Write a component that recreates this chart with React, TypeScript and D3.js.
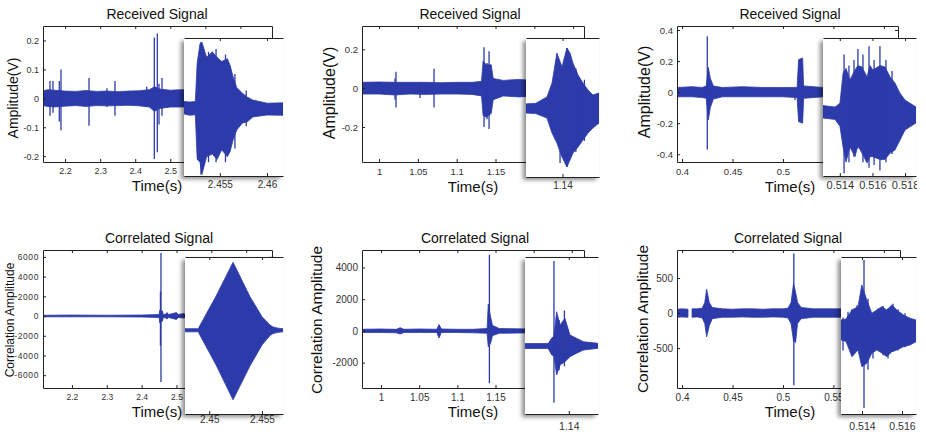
import React, { useEffect, useRef } from "react";
import * as d3 from "d3";

// rows are [time, upper envelope, lower envelope]; null = gap in the trace
type Row = [number, number | null, number | null];
// spikes are [time, top, bottom]
type Spike = [number, number, number];

// ---------- Received signal 1 ----------
const rx1Main: Row[] = [
  [2.137, 0.025, -0.025], [2.15, 0.03, -0.028], [2.17, 0.028, -0.03], [2.2, 0.025, -0.027],
  [2.23, 0.024, -0.025], [2.26, 0.027, -0.028], [2.29, 0.024, -0.025], [2.32, 0.025, -0.026],
  [2.35, 0.023, -0.025], [2.38, 0.025, -0.024], [2.41, 0.026, -0.026], [2.44, 0.03, -0.03],
  [2.455, 0.04, -0.045], [2.47, 0.032, -0.035], [2.5, 0.028, -0.03], [2.53, 0.03, -0.03],
  [2.6, 0.027, -0.027], [2.79, 0.025, -0.025],
];
const rx1Spikes: Spike[] = [
  [2.157, 0.06, -0.06], [2.1655, 0.06, -0.05], [2.1835, 0.06, -0.08], [2.1883, 0.1, -0.11],
  [2.2682, 0.07, -0.095], [2.3195, 0.035, -0.03], [2.3423, 0.06, -0.06], [2.4327, 0.04, -0.03],
  [2.4544, 0.21, -0.21], [2.4629, 0.224, -0.186], [2.4678, 0.05, -0.09], [2.4763, 0.07, -0.06],
];
const rx1Zoom: Row[] = [
  [2.4512, 0.02, -0.025], [2.4518, 0.018, -0.03], [2.4524, 0.02, -0.028], [2.4526, 0.16, -0.19],
  [2.4529, 0.23, -0.2], [2.4531, 0.235, -0.245], [2.4536, 0.18, -0.18], [2.4542, 0.2, -0.17],
  [2.4547, 0.18, -0.19], [2.4552, 0.165, -0.155], [2.4558, 0.175, -0.18], [2.4561, 0.15, -0.16],
  [2.4564, 0.11, -0.12], [2.4568, 0.07, -0.083], [2.4574, 0.05, -0.058], [2.4579, 0.036, -0.054],
  [2.4585, 0.025, -0.036], [2.46, 0.014, -0.029], [2.4617, 0.015, -0.03],
];
const rx1ZoomSpikes: Spike[] = [
  [2.453, 0.235, -0.245], [2.4538, 0.2, -0.2], [2.4546, 0.21, -0.2], [2.4556, 0.19, -0.2],
  [2.4566, 0.12, -0.15], [2.4578, 0.06, -0.07],
];
const rx1XTicks = [2.2, 2.3, 2.4, 2.5, 2.6, 2.7];
const rx1YTicks = [-0.2, -0.1, 0, 0.1, 0.2];
const rx1ZoomTicks = [2.455, 2.46];

// ---------- Received signal 2 ----------
const rx2Main: Row[] = [
  [0.978, 0.03, -0.03], [1.0, 0.032, -0.03], [1.02, 0.03, -0.035], [1.04, 0.03, -0.03],
  [1.06, 0.03, -0.032], [1.08, 0.028, -0.03], [1.1, 0.03, -0.03], [1.12, 0.03, -0.032],
  [1.132, 0.035, -0.04], [1.134, 0.14, -0.14], [1.138, 0.12, -0.15], [1.1445, 0.12, -0.13],
  [1.147, 0.05, -0.06], [1.16, 0.04, -0.04], [1.18, 0.045, -0.045], [1.2, 0.04, -0.04],
  [1.264, 0.04, -0.04],
];
const rx2Spikes: Spike[] = [
  [1.0205, 0.05, -0.06], [1.0218, 0.085, -0.1], [1.0527, 0.03, -0.05], [1.0708, 0.1, -0.1],
  [1.1352, 0.21, -0.2], [1.1391, 0.13, -0.16], [1.1417, 0.19, -0.21],
];
const rx2Zoom: Row[] = [
  [1.1385, 0.013, -0.02], [1.1389, 0.015, -0.022], [1.13936, 0.038, -0.038], [1.13957, 0.088, -0.092],
  [1.13977, 0.196, -0.128], [1.13998, 0.146, -0.178], [1.14018, 0.214, -0.214], [1.14031, 0.196, -0.189],
  [1.14043, 0.16, -0.164], [1.14064, 0.117, -0.142], [1.14084, 0.088, -0.117], [1.14105, 0.063, -0.092],
  [1.14125, 0.045, -0.074], [1.1415, 0.052, -0.056],
];
const rx2ZoomSpikes: Spike[] = [
  [1.14018, 0.214, -0.214], [1.1399, 0.15, -0.2], [1.14055, 0.14, -0.16], [1.1409, 0.1, -0.12],
];
const rx2XTicks = [1, 1.05, 1.1, 1.15, 1.2, 1.25];
const rx2YTicks = [-0.2, 0, 0.2];
const rx2ZoomTicks = [1.14];

// ---------- Received signal 3 ----------
const rx3Main: Row[] = [
  [0.395, 0.03, -0.03], [0.41, 0.035, -0.03], [0.42, 0.03, -0.035], [0.424, 0.04, -0.04],
  [0.426, 0.16, -0.18], [0.428, 0.09, -0.1], [0.431, 0.04, -0.045], [0.44, 0.03, -0.03],
  [0.46, 0.035, -0.03], [0.48, 0.03, -0.03], [0.5, 0.03, -0.03], [0.514, 0.03, -0.035],
  [0.5155, 0.21, -0.19], [0.5195, 0.22, -0.2], [0.5205, 0.04, -0.04], [0.54, 0.03, -0.03],
  [0.614, 0.03, -0.03],
];
const rx3Spikes: Spike[] = [[0.425, 0.36, -0.37], [0.512, 0.02, -0.05]];
const rx3Zoom: Row[] = [
  [0.51297, 0.005, -0.04], [0.51371, 0.0, -0.045], [0.51401, 0.014, -0.07], [0.5142, 0.123, -0.145],
  [0.51438, 0.14, -0.2], [0.51462, 0.098, -0.145], [0.51493, 0.134, -0.18], [0.51511, 0.15, -0.14],
  [0.51536, 0.145, -0.167], [0.51567, 0.109, -0.203], [0.51585, 0.15, -0.18], [0.51603, 0.134, -0.18],
  [0.51646, 0.15, -0.19], [0.51677, 0.145, -0.19], [0.51708, 0.109, -0.167], [0.51738, 0.087, -0.156],
  [0.51769, 0.05, -0.12], [0.518, 0.025, -0.083], [0.5183, 0.014, -0.072], [0.51867, 0.0, -0.058],
];
const rx3ZoomSpikes: Spike[] = [
  [0.51426, 0.19, -0.24], [0.51456, 0.15, -0.2], [0.51487, 0.17, -0.18], [0.51511, 0.21, -0.15],
  [0.51542, 0.19, -0.2], [0.51579, 0.22, -0.22], [0.5161, 0.17, -0.21], [0.51646, 0.22, -0.23],
  [0.51683, 0.17, -0.2], [0.5172, 0.13, -0.17],
];
const rx3XTicks = [0.4, 0.45, 0.5, 0.55, 0.6];
const rx3YTicks = [-0.4, -0.2, 0, 0.2, 0.4];
const rx3ZoomTicks = [0.514, 0.516, 0.518];

// ---------- Correlated signal 1 ----------
const xc1Main: Row[] = [
  [2.117, 80, -80], [2.2, 100, -80], [2.3, 80, -80], [2.4, 100, -100], [2.45, 150, -150],
  [2.452, 600, -700], [2.46, 500, -500], [2.462, 150, -150], [2.47, 200, -200], [2.473, 350, -300],
  [2.477, 150, -150], [2.5, 350, -350], [2.505, 150, -150], [2.52, 250, -200], [2.53, 100, -100],
  [2.774, 80, -80],
];
const xc1Spikes: Spike[] = [[2.4555, 6400, -6700], [2.454, 2500, -3000]];
const xc1Zoom: Row[] = [
  [2.4477, 150, -150], [2.449, 150, -150], [2.44903, 300, -300], [2.45064, 3250, -3300],
  [2.45226, 6500, -6650], [2.45387, 3200, -3400], [2.45501, 1300, -1400], [2.45577, 500, -500],
  [2.45605, 320, -320], [2.45653, 200, -200], [2.457, 150, -150],
];
const xc1ZoomSpikes: Spike[] = [];
const xc1XTicks = [2.2, 2.3, 2.4, 2.5, 2.6, 2.7];
const xc1YTicks = [-6000, -4000, -2000, 0, 2000, 4000, 6000];
const xc1ZoomTicks = [2.45, 2.455];

// ---------- Correlated signal 2 ----------
const xc2Main: Row[] = [
  [0.975, 100, -100], [1.0, 120, -100], [1.02, 100, -120], [1.025, 200, -200], [1.03, 100, -100],
  [1.05, 120, -100], [1.073, 100, -100], [1.076, 400, -450], [1.079, 120, -100], [1.1, 100, -100],
  [1.12, 100, -120], [1.139, 150, -150], [1.1405, 1700, -1000], [1.1435, 900, -800],
  [1.146, 350, -300], [1.155, 150, -150], [1.2, 120, -120], [1.266, 100, -100],
];
const xc2Spikes: Spike[] = [[1.142, 4800, -3300]];
const xc2Zoom: Row[] = [
  [1.1382, 150, -150], [1.13915, 150, -150], [1.1393, 500, -560], [1.13939, 600, -600],
  [1.1395, 2120, -1790], [1.13964, 1300, -1170], [1.13984, 1710, -970], [1.14005, 680, -660],
  [1.14032, 475, -450], [1.1406, 265, -250], [1.1412, 165, -140],
];
const xc2ZoomSpikes: Spike[] = [[1.13939, 5250, -3500], [1.13982, 2200, -1250], [1.1396, 1600, -1500]];
const xc2XTicks = [1, 1.05, 1.1, 1.15, 1.2, 1.25];
const xc2YTicks = [-2000, 0, 2000, 4000];
const xc2ZoomTicks = [1.14];

// ---------- Correlated signal 3 ----------
const xc3Main: Row[] = [
  [0.395, 55, -60], [0.4, 60, -55], [0.4059, 55, -60], [0.4079, null, null], [0.4099, 60, -60],
  [0.415, 60, -55], [0.42, 70, -70], [0.4225, 150, -150], [0.4244, 340, -340], [0.427, 150, -180],
  [0.43, 80, -80], [0.44, 60, -60], [0.45, 55, -60], [0.46, 60, -55], [0.47, 60, -60],
  [0.48, 55, -60], [0.49, 60, -55], [0.5, 60, -60], [0.505, 70, -70], [0.508, 150, -150],
  [0.5105, 420, -400], [0.5125, 300, -420], [0.5145, 150, -150], [0.518, 80, -80],
  [0.53, 60, -60], [0.55, 60, -60], [0.616, 60, -60],
];
const xc3Spikes: Spike[] = [[0.5108, 850, -1030]];
const xc3Zoom: Row[] = [
  [0.51295, 118, -130], [0.5132, 130, -150], [0.5135, 242, -338], [0.5138, 283, -255],
  [0.51399, 553, -462], [0.51424, 366, -420], [0.51449, 201, -296], [0.51474, 242, -255],
  [0.51499, 283, -292], [0.51524, 242, -338], [0.51549, 304, -276], [0.51574, 242, -255],
  [0.51607, 180, -214], [0.5164, 139, -193], [0.5167, 118, -152],
];
const xc3ZoomSpikes: Spike[] = [
  [0.51305, 150, -260], [0.5133, 220, -150], [0.5135, 250, -330], [0.51375, 300, -250],
  [0.5141, 863, -975], [0.5143, 380, -500], [0.51455, 200, -360], [0.5148, 260, -250],
  [0.51505, 290, -320], [0.5153, 260, -360], [0.51555, 320, -280], [0.5158, 250, -260],
  [0.51615, 200, -220],
];
const xc3XTicks = [0.4, 0.45, 0.5, 0.55, 0.6];
const xc3YTicks = [-500, 0, 500];
const xc3ZoomTicks = [0.514, 0.516];

const BLUE = "#2c3ba9";
const FONT = "'Liberation Sans', Arial, sans-serif";

type Box = [number, number, number, number];
interface Panel {
  title: string; titleAt: [number, number];
  ylabel: string; ylabelAt: [number, number]; ylabelSize: number;
  xlabelAt: [number, number];
  box: Box; xDomain: [number, number]; yDomain: [number, number];
  xTicks: number[]; yTicks: number[]; env: Row[]; spikes: Spike[];
  tickFont: number; tickPad: number;
  inBox: Box; inX: [number, number]; inY: [number, number];
  inTicks: number[]; inEnv: Row[]; inSpikes: Spike[]; inFont: number; inPad: number;
}

const panels: Panel[] = [
  {
    title: "Received Signal", titleAt: [157, 14], ylabel: "Amplitude(V)", ylabelAt: [13, 98], ylabelSize: 14,
    xlabelAt: [157, 186], box: [43, 26, 272, 162], xDomain: [2.137, 2.79], yDomain: [-0.22, 0.25],
    xTicks: rx1XTicks, yTicks: rx1YTicks, env: rx1Main, spikes: rx1Spikes, tickFont: 9, tickPad: 6,
    inBox: [184, 38, 283, 176], inX: [2.4512, 2.4617], inY: [-0.25, 0.25],
    inTicks: rx1ZoomTicks, inEnv: rx1Zoom, inSpikes: rx1ZoomSpikes, inFont: 10, inPad: 5,
  },
  {
    title: "Received Signal", titleAt: [470, 14], ylabel: "Amplitude(V)", ylabelAt: [329, 93], ylabelSize: 16,
    xlabelAt: [473, 187], box: [362, 26, 584, 162], xDomain: [0.978, 1.264], yDomain: [-0.38, 0.32],
    xTicks: rx2XTicks, yTicks: rx2YTicks, env: rx2Main, spikes: rx2Spikes, tickFont: 9.5, tickPad: 6,
    inBox: [526, 38, 599, 177], inX: [1.1385, 1.1415], inY: [-0.25, 0.25],
    inTicks: rx2ZoomTicks, inEnv: rx2Zoom, inSpikes: rx2ZoomSpikes, inFont: 10, inPad: 5,
  },
  {
    title: "Received Signal", titleAt: [790, 14], ylabel: "Amplitude(V)", ylabelAt: [644, 92], ylabelSize: 16,
    xlabelAt: [790, 187], box: [677, 26, 898, 162], xDomain: [0.395, 0.614], yDomain: [-0.45, 0.426],
    xTicks: rx3XTicks, yTicks: rx3YTicks, env: rx3Main, spikes: rx3Spikes, tickFont: 9.5, tickPad: 6,
    inBox: [823, 38, 916, 176], inX: [0.51297, 0.51867], inY: [-0.25, 0.25],
    inTicks: rx3ZoomTicks, inEnv: rx3Zoom, inSpikes: rx3ZoomSpikes, inFont: 11, inPad: 5,
  },
  {
    title: "Correlated Signal", titleAt: [159, 238], ylabel: "Correlation Amplitude", ylabelAt: [10, 320], ylabelSize: 12,
    xlabelAt: [157, 412], box: [43, 250, 272, 388], xDomain: [2.117, 2.774], yDomain: [-7300, 6700],
    xTicks: xc1XTicks, yTicks: xc1YTicks, env: xc1Main, spikes: xc1Spikes, tickFont: 8.5, tickPad: 5.5,
    inBox: [185, 257, 283, 414], inX: [2.4477, 2.457], inY: [-8000, 7000],
    inTicks: xc1ZoomTicks, inEnv: xc1Zoom, inSpikes: xc1ZoomSpikes, inFont: 10, inPad: 1.5,
  },
  {
    title: "Correlated Signal", titleAt: [475, 238], ylabel: "Correlation Amplitude", ylabelAt: [317, 320], ylabelSize: 15.5,
    xlabelAt: [473, 412], box: [362, 250, 584, 388], xDomain: [0.975, 1.266], yDomain: [-3600, 5100],
    xTicks: xc2XTicks, yTicks: xc2YTicks, env: xc2Main, spikes: xc2Spikes, tickFont: 10, tickPad: 5.5,
    inBox: [525, 257, 598, 414], inX: [1.1382, 1.1412], inY: [-4200, 5500],
    inTicks: xc2ZoomTicks, inEnv: xc2Zoom, inSpikes: xc2ZoomSpikes, inFont: 10.5, inPad: 8.5,
  },
  {
    title: "Correlated Signal", titleAt: [788, 238], ylabel: "Correlation Amplitude", ylabelAt: [643, 319], ylabelSize: 15.5,
    xlabelAt: [790, 412], box: [677, 250, 900, 388], xDomain: [0.395, 0.616], yDomain: [-1070, 900],
    xTicks: xc3XTicks, yTicks: xc3YTicks, env: xc3Main, spikes: xc3Spikes, tickFont: 10, tickPad: 5.5,
    inBox: [841, 257, 916, 414], inX: [0.51295, 0.5167], inY: [-1050, 900],
    inTicks: xc3ZoomTicks, inEnv: xc3Zoom, inSpikes: xc3ZoomSpikes, inFont: 10.5, inPad: 8.5,
  },
];

function drawTrace(g: any, env: Row[], spikes: Spike[], x: any, y: any) {
  const area = d3.area<Row>()
    .defined(d => d[1] !== null)
    .x(d => x(d[0]))
    .y0(d => y(d[2] as number))
    .y1(d => y(d[1] as number));
  g.append("path").datum(env).attr("d", area)
    .attr("fill", BLUE).attr("stroke", BLUE).attr("stroke-width", 0.8);
  g.selectAll("line.spike").data(spikes).join("line")
    .attr("class", "spike")
    .attr("x1", (d: Spike) => x(d[0])).attr("x2", (d: Spike) => x(d[0]))
    .attr("y1", (d: Spike) => y(d[1])).attr("y2", (d: Spike) => y(d[2]))
    .attr("stroke", BLUE).attr("stroke-width", 1.3);
}

function styleAxis(a: any, size: number) {
  a.attr("font-family", FONT).attr("font-size", size);
  a.selectAll("text").attr("fill", "#333");
  a.selectAll("line").attr("stroke", "#222");
  a.select(".domain").attr("stroke", "#222");
}

export default function App() {
  const ref = useRef<SVGSVGElement>(null);

  useEffect(() => {
    const svg = d3.select(ref.current);
    svg.selectAll("g.panels").remove();
    const root = svg.append("g").attr("class", "panels");
    const fmt = (d: any) => String(d);

    panels.forEach((p, i) => {
      const [x0, y0, x1, y1] = p.box;
      const x = d3.scaleLinear().domain(p.xDomain).range([x0, x1]);
      const y = d3.scaleLinear().domain(p.yDomain).range([y1, y0]);
      const g = root.append("g");

      g.append("clipPath").attr("id", `mc${i}`).append("rect")
        .attr("x", x0).attr("y", y0).attr("width", x1 - x0).attr("height", y1 - y0);
      drawTrace(g.append("g").attr("clip-path", `url(#mc${i})`), p.env, p.spikes, x, y);

      // axes, ticks pointing inward on all four sides
      const bottom = g.append("g").attr("transform", `translate(0,${y1})`)
        .call(d3.axisBottom(x).tickValues(p.xTicks).tickSize(-3).tickSizeOuter(0).tickPadding(p.tickPad).tickFormat(fmt));
      styleAxis(bottom, p.tickFont);
      const top = g.append("g").attr("transform", `translate(0,${y0})`)
        .call(d3.axisTop(x).tickValues(p.xTicks).tickSize(-3).tickSizeOuter(0).tickFormat(() => ""));
      styleAxis(top, p.tickFont);
      const left = g.append("g").attr("transform", `translate(${x0},0)`)
        .call(d3.axisLeft(y).tickValues(p.yTicks).tickSize(-3).tickSizeOuter(0).tickPadding(4).tickFormat(fmt));
      styleAxis(left, p.tickFont);
      if (i === 3) left.selectAll("text").attr("letter-spacing", 0.6);
      const right = g.append("g").attr("transform", `translate(${x1},0)`)
        .call(d3.axisRight(y).tickValues(p.yTicks).tickSize(-3).tickSizeOuter(0).tickFormat(() => ""));
      styleAxis(right, p.tickFont);

      g.append("text").attr("x", p.titleAt[0]).attr("y", p.titleAt[1]).attr("dy", "0.35em")
        .attr("text-anchor", "middle").attr("font-family", FONT).attr("font-size", 14)
        .attr("fill", "#111").text(p.title);
      g.append("text").attr("x", p.xlabelAt[0]).attr("y", p.xlabelAt[1]).attr("dy", "0.35em")
        .attr("text-anchor", "middle").attr("font-family", FONT).attr("font-size", 15)
        .attr("fill", "#111").text("Time(s)");
      g.append("text")
        .attr("transform", `translate(${p.ylabelAt[0]},${p.ylabelAt[1]}) rotate(-90)`)
        .attr("dy", "0.35em").attr("text-anchor", "middle").attr("font-family", FONT)
        .attr("font-size", p.ylabelSize).attr("fill", "#111").text(p.ylabel);

      // zoomed inset
      const [ix0, iy0, ix1, iy1] = p.inBox;
      const ix = d3.scaleLinear().domain(p.inX).range([ix0, ix1]);
      const iy = d3.scaleLinear().domain(p.inY).range([iy1, iy0]);
      g.append("clipPath").attr("id", `oc${i}`).append("rect")
        .attr("x", ix0 - 12).attr("y", iy0 - 2).attr("width", Math.min(ix1 + 1, 917) - ix0 + 12).attr("height", iy1 - iy0 + 30);
      g.append("clipPath").attr("id", `ic${i}`).append("rect")
        .attr("x", ix0).attr("y", iy0).attr("width", ix1 - ix0).attr("height", iy1 - iy0);
      const ig = g.append("g").attr("clip-path", `url(#oc${i})`);
      ig.append("rect").attr("x", ix0).attr("y", iy0).attr("width", ix1 - ix0).attr("height", iy1 - iy0)
        .attr("fill", "#fff").attr("filter", "url(#shade)");
      drawTrace(ig.append("g").attr("clip-path", `url(#ic${i})`), p.inEnv, p.inSpikes, ix, iy);
      const ib = ig.append("g").attr("transform", `translate(0,${iy1})`)
        .call(d3.axisBottom(ix).tickValues(p.inTicks).tickSize(-3).tickSizeOuter(0).tickPadding(p.inPad).tickFormat(fmt));
      styleAxis(ib, p.inFont);
      const it = ig.append("g").attr("transform", `translate(0,${iy0})`)
        .call(d3.axisTop(ix).tickValues(p.inTicks).tickSize(-3).tickSizeOuter(0).tickFormat(() => ""));
      styleAxis(it, p.inFont);
    });
  }, []);

  return (
    <svg ref={ref} width={926} height={436}
      style={{ position: "absolute", left: 0, top: 0, background: "#fff" }}>
      <defs>
        <filter id="shade" x="-20%" y="-10%" width="130%" height="125%">
          <feDropShadow dx="-3" dy="3" stdDeviation="2" floodColor="#000" floodOpacity="0.45" />
        </filter>
      </defs>
      <rect width={926} height={436} fill="#fff" />
    </svg>
  );
}
